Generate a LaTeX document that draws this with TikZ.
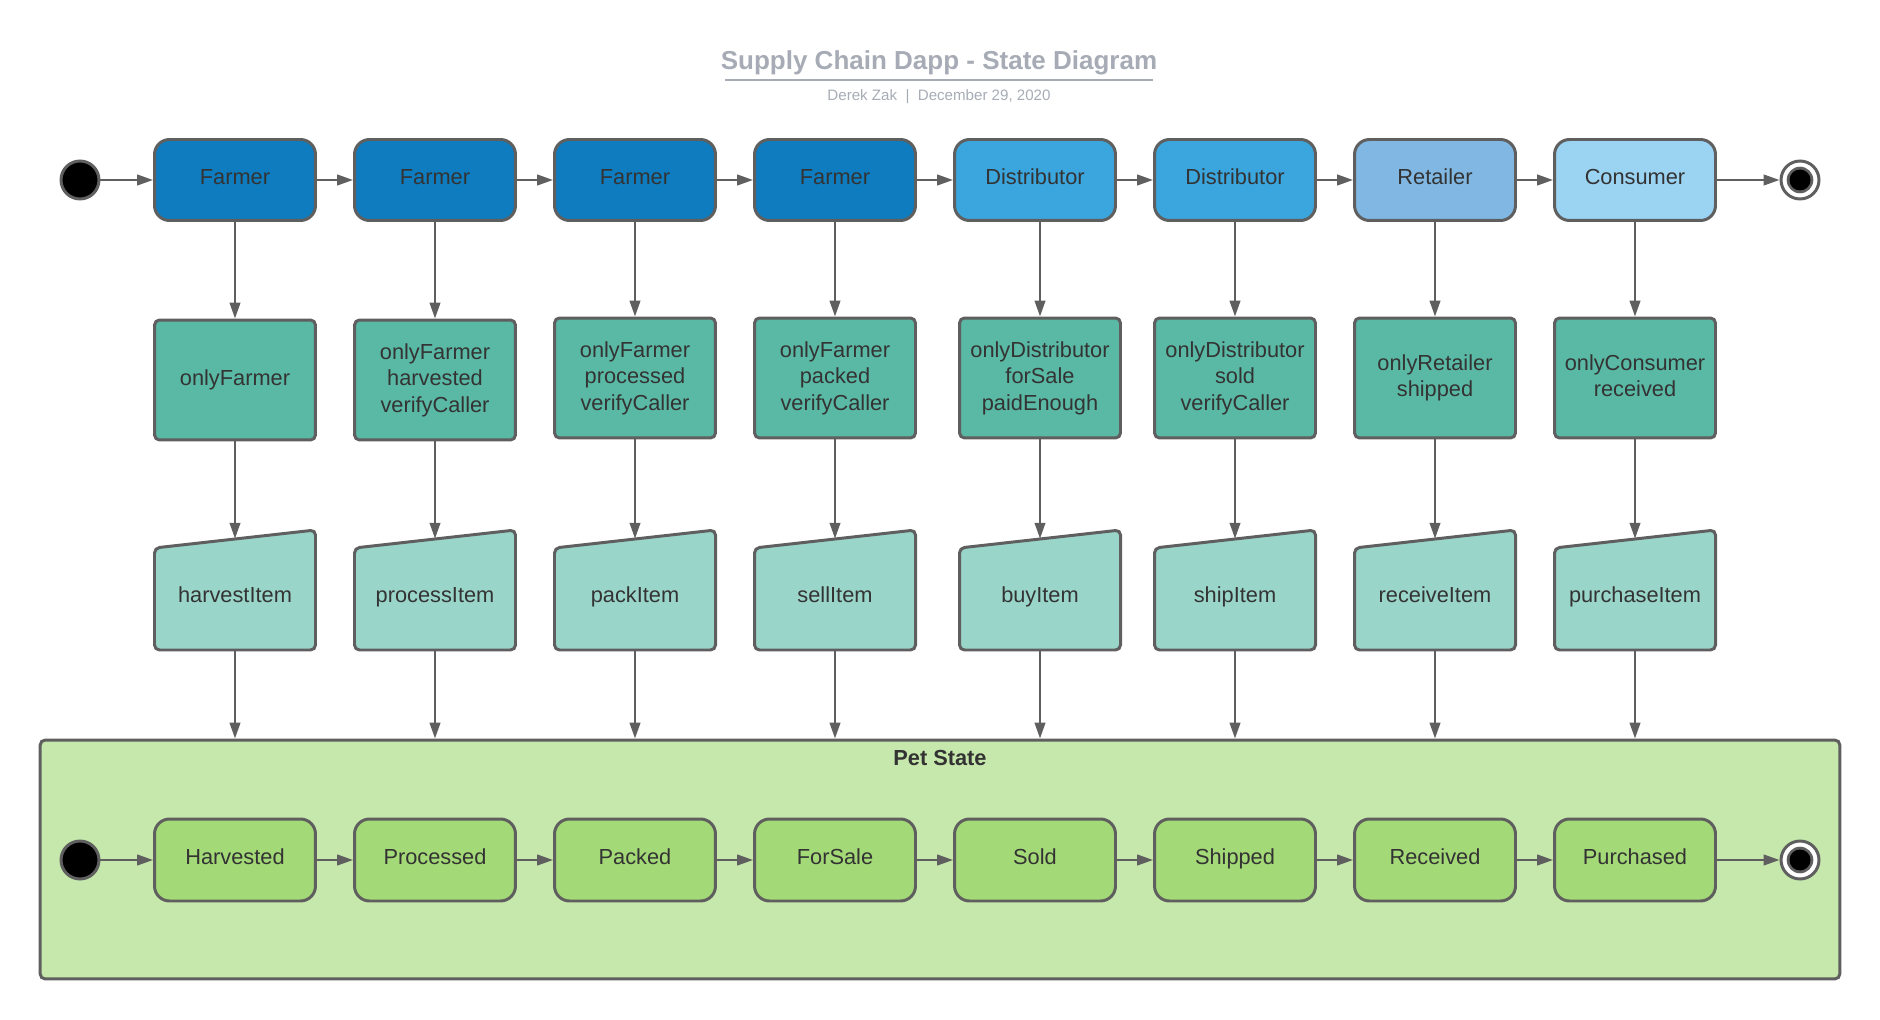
\documentclass[tikz,border=0pt]{standalone}
\usepackage{fontspec}
\setmainfont{Liberation Sans}
\usepackage{xcolor}
\usepackage{tikz}
\usetikzlibrary{arrows.meta, positioning, calc}
\definecolor{farmerblue}{RGB}{14, 124, 190}
\definecolor{distblue}{RGB}{59, 166, 221}
\definecolor{retailblue}{RGB}{128, 184, 227}
\definecolor{consblue}{RGB}{155, 211, 242}
\definecolor{guardgreen}{RGB}{90, 185, 165}
\definecolor{inputgreen}{RGB}{154, 213, 202}
\definecolor{petbg}{RGB}{199, 232, 172}
\definecolor{stategreen}{RGB}{164, 217, 119}
\definecolor{linegray}{RGB}{95, 95, 95}
\definecolor{txtgray}{RGB}{51, 51, 51}
\definecolor{titlegray}{RGB}{166, 171, 181}

\begin{document}
\begin{tikzpicture}[
  x=0.02cm, y=-0.02cm,
  every node/.style={font=\fontsize{12.4}{15}\selectfont, text=txtgray},
  oneline/.style={text height=0.75em, text depth=0.25em},
  actor/.style={rectangle,draw=linegray,line width=1.7pt,rounded corners=0.3cm,oneline,
                minimum width=3.22cm,minimum height=1.62cm},
  guard/.style={rectangle,draw=linegray,line width=1.7pt,rounded corners=0.1cm,fill=guardgreen,
                minimum width=3.22cm,minimum height=2.4cm,align=center,text depth=0.25em},
  inshape/.style={draw=linegray,line width=1.7pt,rounded corners=0.1cm,fill=inputgreen},
  inbox/.style={rectangle,minimum width=3.22cm,minimum height=2.22cm,inner sep=0pt,
                text height=1.15em,text depth=0.25em},
  pstate/.style={rectangle,draw=linegray,line width=1.7pt,rounded corners=0.3cm,fill=stategreen,
                minimum width=3.22cm,minimum height=1.64cm,oneline},
  startdot/.style={circle,draw=linegray,line width=1.7pt,fill=black,minimum size=0.76cm,inner sep=0pt},
  enddot/.style={circle,draw=linegray,line width=1.7pt,fill=white,minimum size=0.76cm,inner sep=0pt,
                path picture={\fill[linegray] (path picture bounding box.center) circle (0.266cm);
                              \fill[black] (path picture bounding box.center) circle (0.21cm);}},
  flow/.style={draw=linegray,line width=1.25pt,-{Triangle[length=9pt,width=6pt]}}
]
  \useasboundingbox (0,0) rectangle (1880,1020);

  % Title
  \node[font=\fontsize{14.8}{18}\selectfont\bfseries, text=titlegray, inner sep=0pt,
        text height=0.75em, text depth=0.25em] (title) at (939, 65)
    {Supply Chain Dapp - State Diagram};
  \draw[titlegray, line width=1.2pt] ($(title.west)+(5,15)$) -- ($(title.east)+(-5,15)$);
  \node[font=\fontsize{8.6}{10}\selectfont, text=titlegray, oneline] (sub) at (939, 96)
    {Derek Zak \ | \ December 29, 2020};

  % Roles
  \node[startdot] (st0) at (80, 180) {};
  \node[actor, fill=farmerblue] (a1) at (235, 180) {Farmer};
  \node[actor, fill=farmerblue] (a2) at (435, 180) {Farmer};
  \node[actor, fill=farmerblue] (a3) at (635, 180) {Farmer};
  \node[actor, fill=farmerblue] (a4) at (835, 180) {Farmer};
  \node[actor, fill=distblue]   (a5) at (1035, 180) {Distributor};
  \node[actor, fill=distblue]   (a6) at (1235, 180) {Distributor};
  \node[actor, fill=retailblue] (a7) at (1435, 180) {Retailer};
  \node[actor, fill=consblue]   (a8) at (1635, 180) {Consumer};
  \node[enddot] (end0) at (1800, 180) {};

  % Modifiers
  \node[guard] (g1) at (235, 380) {onlyFarmer};
  \node[guard] (g2) at (435, 380) {onlyFarmer\\harvested\\verifyCaller};
  \node[guard] (g3) at (635, 378) {onlyFarmer\\processed\\verifyCaller};
  \node[guard] (g4) at (835, 378) {onlyFarmer\\packed\\verifyCaller};
  \node[guard] (g5) at (1040, 378) {onlyDistributor\\forSale\\paidEnough};
  \node[guard] (g6) at (1235, 378) {onlyDistributor\\sold\\verifyCaller};
  \node[guard] (g7) at (1435, 378) {onlyRetailer\\shipped};
  \node[guard] (g8) at (1635, 378) {onlyConsumer\\received};

  % Functions (manual input shapes)
  \foreach \x in {235,435,635,835,1040,1235,1435,1635}
    \draw[inshape] ({\x-80.5},548) -- ({\x+80.5},530) -- ({\x+80.5},650) -- ({\x-80.5},650) -- cycle;
  \node[inbox] (m1) at (235, 594.5) {harvestItem};
  \node[inbox] (m2) at (435, 594.5) {processItem};
  \node[inbox] (m3) at (635, 594.5) {packItem};
  \node[inbox] (m4) at (835, 594.5) {sellItem};
  \node[inbox] (m5) at (1040, 594.5) {buyItem};
  \node[inbox] (m6) at (1235, 594.5) {shipItem};
  \node[inbox] (m7) at (1435, 594.5) {receiveItem};
  \node[inbox] (m8) at (1635, 594.5) {purchaseItem};

  % Pet state
  \node[rectangle, draw=linegray, line width=1.7pt, rounded corners=0.1cm, fill=petbg,
        minimum width=36cm, minimum height=4.78cm] (pet) at (940, 859.5) {};
  \node[font=\fontsize{12.4}{15}\selectfont\bfseries, oneline] (petname) at ($(pet.north)+(0,23)$) {Pet State};
  \node[startdot] (st1) at (80, 860) {};
  \node[pstate] (s1) at (235, 860) {Harvested};
  \node[pstate] (s2) at (435, 860) {Processed};
  \node[pstate] (s3) at (635, 860) {Packed};
  \node[pstate] (s4) at (835, 860) {ForSale};
  \node[pstate] (s5) at (1035, 860) {Sold};
  \node[pstate] (s6) at (1235, 860) {Shipped};
  \node[pstate] (s7) at (1435, 860) {Received};
  \node[pstate] (s8) at (1635, 860) {Purchased};
  \node[enddot] (end1) at (1800, 860) {};

  \foreach \a/\b in {st0/a1,a1/a2,a2/a3,a3/a4,a4/a5,a5/a6,a6/a7,a7/a8,a8/end0,
                     st1/s1,s1/s2,s2/s3,s3/s4,s4/s5,s5/s6,s6/s7,s7/s8,s8/end1}
    \draw[flow] (\a) -- (\b);
  \foreach \i in {1,...,8} {
    \draw[flow] (a\i.south -| g\i.north) -- (g\i.north);
    \draw[flow] (g\i) -- (m\i);
    \draw[flow] (m\i.south) -- (m\i.south |- pet.north);
  }
\end{tikzpicture}
\end{document}
